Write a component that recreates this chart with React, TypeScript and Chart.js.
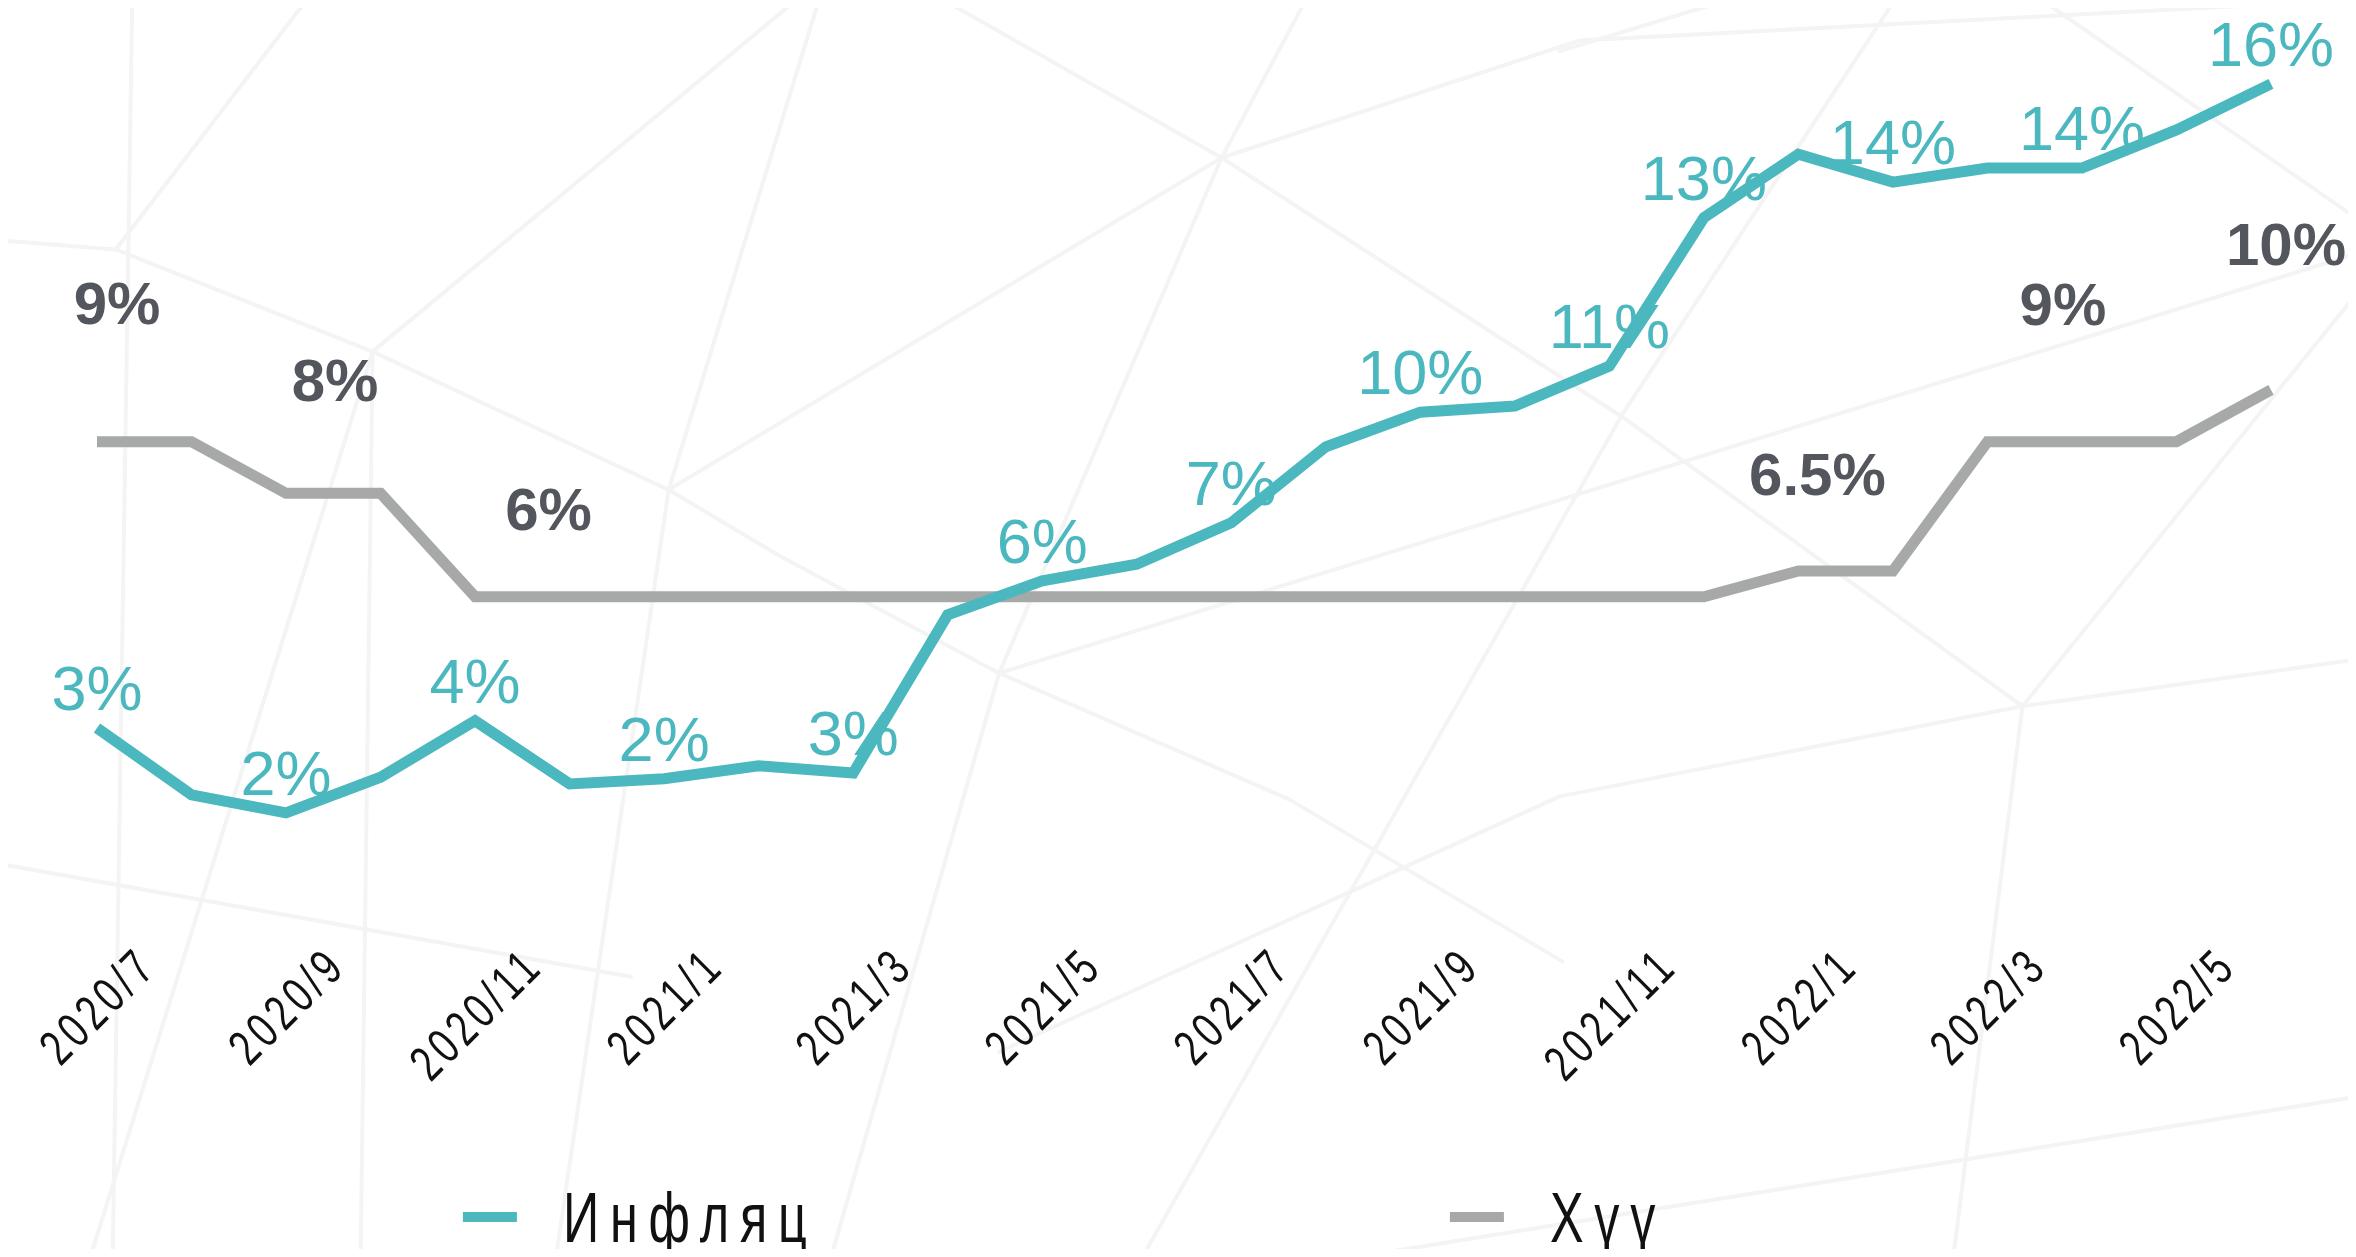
import React, { useEffect, useRef } from "react";
import { Chart, registerables } from "chart.js";

Chart.register(...registerables);

// ---------------- data ----------------
const months = [
  "2020/7", "2020/8", "2020/9", "2020/10", "2020/11", "2020/12",
  "2021/1", "2021/2", "2021/3", "2021/4", "2021/5", "2021/6",
  "2021/7", "2021/8", "2021/9", "2021/10", "2021/11", "2021/12",
  "2022/1", "2022/2", "2022/3", "2022/4", "2022/5", "2022/6",
];

const inflation = [
  3.46, 2.17, 1.82, 2.51, 3.6, 2.38, 2.48, 2.73, 2.59, 5.65, 6.31, 6.63,
  7.43, 8.9, 9.57, 9.69, 10.46, 13.33, 14.56, 14.02, 14.29, 14.29, 15.03, 15.92,
];

const policyRate = [
  9, 9, 8, 8, 6, 6, 6, 6, 6, 6, 6, 6,
  6, 6, 6, 6, 6, 6, 6.5, 6.5, 9, 9, 9, 10,
];

const tickLabels = [
  "2020/7", "2020/9", "2020/11", "2021/1", "2021/3", "2021/5",
  "2021/7", "2021/9", "2021/11", "2022/1", "2022/3", "2022/5",
];

const inflationLabelMonths = [
  "2020/7", "2020/9", "2020/11", "2021/1", "2021/3", "2021/5", "2021/7",
  "2021/9", "2021/11", "2021/12", "2022/2", "2022/4", "2022/6",
];
const inflationLabelTexts = [
  "3%", "2%", "4%", "2%", "3%", "6%", "7%", "10%", "11%", "13%", "14%", "14%", "16%",
];

const rateLabelMonths = ["2020/7", "2020/9", "2020/12", "2022/1", "2022/4", "2022/6"];
const rateLabelTexts = ["9%", "8%", "6%", "6.5%", "9%", "10%"];

const seriesNames = ["Инфляц", "Хүү"];

// ---------------- styling / layout ----------------
const TEAL = "#4bb7be";
const GREY = "#a7a9a8";
const DARK_LABEL = "#53565c";
const FONT = '"Liberation Sans", Arial, Helvetica, sans-serif';

// pixel nudges of the policy-rate annotations (dx, baseline dy) relative to their point
const RATE_LABEL_NUDGE: [number, number][] = [
  [20, -118],
  [49, -92],
  [-21, -67],
  [19, -76],
  [-19, -117],
  [15, -125],
];

// faint decorative mesh of the background (in 1568-wide reference units)
const DECOR: number[][] = [
  [88, 0, 75, 837],
  [0, 160, 77, 166], [77, 166, 248, 234], [248, 234, 445, 326], [445, 326, 519, 370],
  [519, 370, 665, 448], [665, 448, 858, 532], [858, 532, 1040, 640],
  [77, 166, 204, 0], [248, 234, 530, 0], [248, 234, 240, 837], [248, 234, 60, 837],
  [445, 326, 813, 105], [545, 0, 445, 326], [445, 326, 370, 837],
  [813, 105, 628, 0], [813, 105, 869, 0], [813, 105, 1051, 27], [1051, 27, 1568, 0],
  [813, 105, 1079, 277], [813, 105, 665, 448], [665, 448, 553, 837],
  [665, 448, 1568, 169], [1079, 277, 1261, 0], [1079, 277, 760, 837],
  [1079, 277, 1346, 470], [1346, 470, 1568, 439], [1346, 470, 1038, 530],
  [1038, 530, 665, 700], [1346, 470, 1300, 837], [1568, 196, 1346, 470],
  [1359, 0, 1568, 145], [1038, 34, 1150, 0], [0, 575, 420, 650], [1568, 730, 900, 837],
];

const decorPlugin = {
  id: "decor",
  beforeDraw(chart: any) {
    const ctx = chart.ctx as CanvasRenderingContext2D;
    const k = 2356 / 1568;
    ctx.save();
    ctx.fillStyle = "#ffffff";
    ctx.fillRect(0, 0, chart.width, chart.height);
    ctx.strokeStyle = "#f4f4f4";
    ctx.lineWidth = 4;
    ctx.lineCap = "round";
    for (const s of DECOR) {
      ctx.beginPath();
      ctx.moveTo(s[0] * k - 8, s[1] * k - 8);
      ctx.lineTo(s[2] * k - 8, s[3] * k - 8);
      ctx.stroke();
    }
    ctx.restore();
  },
};

const valueLabelPlugin = {
  id: "valueLabels",
  afterDatasetsDraw(chart: any) {
    const ctx = chart.ctx as CanvasRenderingContext2D;
    const xs = chart.scales.x;
    const ys = chart.scales.y;
    ctx.save();
    ctx.textAlign = "center";
    ctx.textBaseline = "alphabetic";

    ctx.font = `63px ${FONT}`;
    ctx.fillStyle = TEAL;
    inflationLabelMonths.forEach((m, i) => {
      const idx = months.indexOf(m);
      const px = xs.getPixelForValue(idx);
      const py = ys.getPixelForValue(inflation[idx]);
      ctx.fillText(inflationLabelTexts[i], px, py - 18);
    });

    ctx.font = `bold 60px ${FONT}`;
    ctx.fillStyle = DARK_LABEL;
    rateLabelMonths.forEach((m, i) => {
      const idx = months.indexOf(m);
      const px = xs.getPixelForValue(idx);
      const py = ys.getPixelForValue(policyRate[idx]);
      const [dx, dy] = RATE_LABEL_NUDGE[i];
      ctx.fillText(rateLabelTexts[i], px + dx, py + dy);
    });
    ctx.restore();
  },
};

const tickPlugin = {
  id: "rotatedTicks",
  afterDraw(chart: any) {
    const ctx = chart.ctx as CanvasRenderingContext2D;
    const xs = chart.scales.x;
    const area = chart.chartArea;
    const size = 50;
    const sx = 0.74;
    const capH = 0.72 * size;
    ctx.save();
    ctx.font = `${size}px ${FONT}`;
    ctx.fillStyle = "#111111";
    (ctx as any).letterSpacing = "6px";
    ctx.textAlign = "center";
    ctx.textBaseline = "alphabetic";
    for (const lab of tickLabels) {
      const idx = months.indexOf(lab);
      const w = ctx.measureText(lab).width * sx;
      const half = (w + capH) / (2 * Math.SQRT2);
      const cx = xs.getPixelForValue(idx);
      const cy = area.bottom + 36 + half;
      ctx.save();
      ctx.translate(cx, cy);
      ctx.rotate(-Math.PI / 4);
      ctx.scale(sx, 1);
      ctx.fillText(lab, 0, capH / 2);
      ctx.restore();
    }
    ctx.restore();
  },
};

const legendPlugin = {
  id: "customLegend",
  afterDraw(chart: any) {
    const ctx = chart.ctx as CanvasRenderingContext2D;
    const colors = [TEAL, GREY];
    const starts = [0.1944, 0.6162];
    const dashY = chart.height - 32;
    const baseY = chart.height - 7;
    ctx.save();
    ctx.font = `70px ${FONT}`;
    (ctx as any).letterSpacing = "15px";
    ctx.textAlign = "left";
    ctx.textBaseline = "alphabetic";
    seriesNames.forEach((name, i) => {
      const x0 = chart.width * starts[i];
      ctx.fillStyle = colors[i];
      ctx.fillRect(x0, dashY - 5, 54, 10);
      ctx.fillStyle = "#111111";
      ctx.save();
      ctx.translate(x0 + 100, baseY);
      ctx.scale(0.72, 1);
      ctx.fillText(name, 0, 0);
      ctx.restore();
    });
    ctx.restore();
  },
};

export default function App() {
  const canvasRef = useRef<HTMLCanvasElement | null>(null);

  useEffect(() => {
    const canvas = canvasRef.current;
    if (!canvas) return;
    const chart = new Chart(canvas, {
      type: "line",
      data: {
        labels: months,
        datasets: [
          {
            label: seriesNames[0],
            data: inflation,
            borderColor: TEAL,
            backgroundColor: TEAL,
            borderWidth: 11,
            pointRadius: 0,
            tension: 0,
            fill: false,
            borderJoinStyle: "miter",
            borderCapStyle: "butt",
          },
          {
            label: seriesNames[1],
            data: policyRate,
            borderColor: GREY,
            backgroundColor: GREY,
            borderWidth: 11,
            pointRadius: 0,
            tension: 0,
            fill: false,
            borderJoinStyle: "miter",
            borderCapStyle: "butt",
          },
        ],
      },
      options: {
        animation: false,
        responsive: true,
        maintainAspectRatio: false,
        layout: { padding: { left: 89, right: 77, top: 20, bottom: 342 } },
        plugins: {
          legend: { display: false },
          tooltip: { enabled: false },
          title: { display: false },
        },
        scales: {
          x: { display: false, offset: false },
          y: { display: false, min: 0, max: 17 },
        },
      },
      plugins: [decorPlugin, valueLabelPlugin, tickPlugin, legendPlugin],
    });
    return () => chart.destroy();
  }, []);

  return (
    <div style={{ position: "relative", width: "100%", height: "1241px" }}>
      <canvas ref={canvasRef} />
    </div>
  );
}
